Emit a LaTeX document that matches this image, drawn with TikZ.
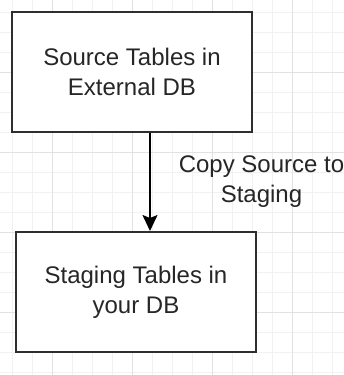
\documentclass[tikz,border=0pt]{standalone}
\usepackage{fontspec}
\setmainfont{Liberation Sans}
\usepackage{xcolor}
\usetikzlibrary{arrows.meta}
\definecolor{gridfaint}{HTML}{F1F1F1}
\definecolor{gridmain}{HTML}{E2E2E2}
\definecolor{boxline}{HTML}{2E2E2E}
\definecolor{inktext}{HTML}{262626}

\begin{document}
\begin{tikzpicture}[x=1pt,y=-1pt,
        tbl/.style={draw=boxline,line width=2pt,fill=white,minimum width=240pt,minimum height=120pt,
            inner sep=0pt,align=center,text=inktext,font=\fontsize{24}{30}\selectfont},
        lbl/.style={align=center,text=inktext,inner sep=0pt,font=\fontsize{24}{30}\selectfont}]
        \useasboundingbox[fill=white] (0,0) rectangle (344,375);
        % background grid, fine lines every 20 and stronger ones every 80
        \foreach \g in {12,32,...,372}{
            \draw[gridfaint,line width=0.8pt] (\g,0)--(\g,375);
            \draw[gridfaint,line width=0.8pt] (0,\g)--(344,\g);
        }
        \foreach \g in {52,132,212,292}
            \draw[gridmain,line width=0.9pt] (\g,0)--(\g,375);
        \foreach \g in {72,152,232,312}
            \draw[gridmain,line width=0.9pt] (0,\g)--(344,\g);
        \node[tbl] (src) at (132,72) {Source Tables in\\External DB};
        \node[tbl] (stg) at (136,292) {Staging Tables in\\your DB};
        \draw[line width=1.5pt,-{Stealth[length=16pt,width=15pt,inset=3pt]}] ([xshift=18pt]src.south)--
            node[lbl,right=28pt] (copy) {Copy Source to\\Staging}([xshift=14pt]stg.north);
    \end{tikzpicture}
\end{document}
